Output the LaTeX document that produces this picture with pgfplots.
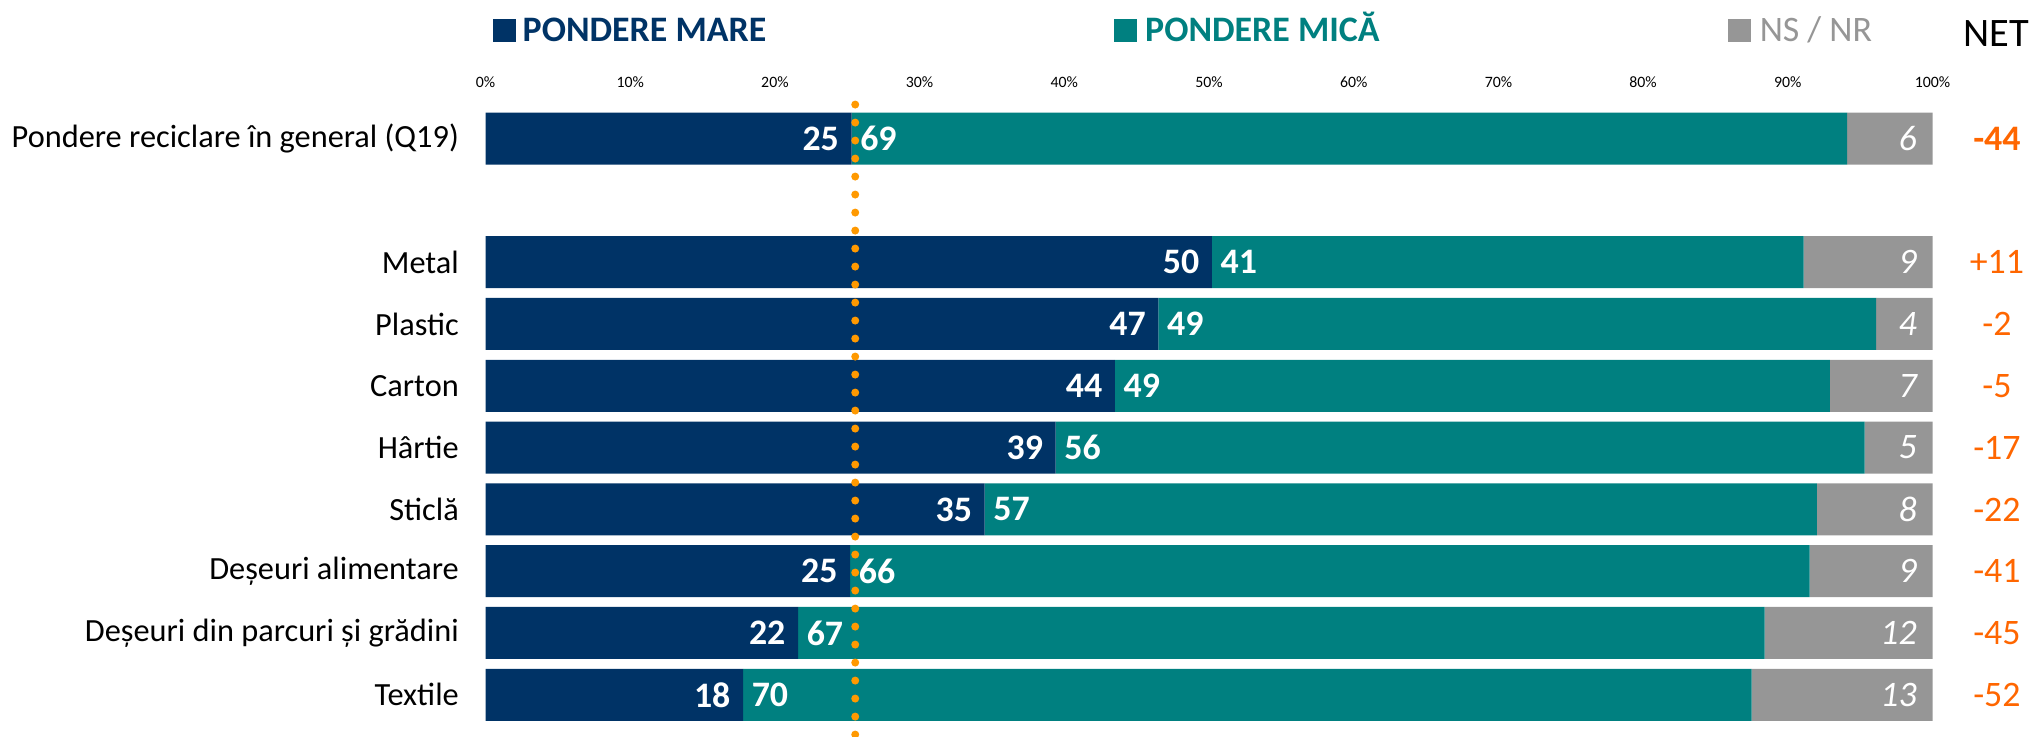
\documentclass[border=0pt]{standalone}
\usepackage{fontspec}
\setmainfont{Carlito}
\usepackage{pgfplots}
\usepackage{pgfplotstable}
\pgfplotsset{compat=1.18}
\definecolor{navy}{RGB}{0,51,102}
\definecolor{teal2}{RGB}{0,128,128}
\definecolor{nsgrey}{RGB}{150,150,150}
\definecolor{dotor}{RGB}{255,153,0}
\definecolor{netor}{RGB}{255,102,0}

\pgfplotstableread{
y big small ns bl sl nl e nx net
9 25.3 68.8 5.9 25 69 6 100 104.45 -44
7 50.2 40.9 8.9 50 41 9 100 104.45 +11
6 46.5 49.6 3.9 47 49 4 100 104.45 -2
5 43.5 49.4 7.1 44 49 7 100 104.45 -5
4 39.4 55.9 4.7 39 56 5 100 104.45 -17
3 34.5 57.5 8.0 35 57 8 100 104.45 -22
2 25.2 66.3 8.5 25 66 9 100 104.45 -41
1 21.6 66.8 11.6 22 67 12 100 104.45 -45
0 17.8 69.7 12.5 18 70 13 100 104.45 -52
}\data

\begin{document}
\begin{tikzpicture}
\useasboundingbox (0,0) rectangle (20.33cm,7.37cm);
\pgfplotsset{base/.style={at={(4.855cm,0)}, anchor=south west, scale only axis,
  width=14.47cm, height=6.355cm, xmin=0, xmax=100, ymin=-0.683, ymax=9.6, clip=false}}
\begin{axis}[base, xbar stacked, bar width=5.2mm,
  axis line style={draw=none}, major tick length=0pt,
  xtick={0,10,...,100},
  xticklabels={0\%,10\%,20\%,30\%,40\%,50\%,60\%,70\%,80\%,90\%,100\%},
  xticklabel pos=upper,
  xticklabel style={font=\fontsize{4.5}{5}\selectfont, anchor=base, inner sep=0pt, yshift=1.35mm},
  ytick={0,1,2,3,4,5,6,7,9},
  yticklabels={Textile,Deșeuri din parcuri și grădini,Deșeuri alimentare,Sticlă,Hârtie,Carton,Plastic,Metal,Pondere reciclare în general (Q19)},
  yticklabel style={font=\fontsize{9.2}{11}\selectfont, anchor=east, inner sep=0pt, xshift=-2.6mm},
]
\addplot[fill=navy, draw=none] table[x=big, y=y]{\data};
\addplot[fill=teal2, draw=none] table[x=small, y=y]{\data};
\addplot[fill=nsgrey, draw=none] table[x=ns, y=y]{\data};
\end{axis}
\begin{axis}[base, hide axis]
\addplot[dotor, line width=0.8mm, line cap=round, dash pattern=on 0pt off 1.8mm] coordinates {(25.55,9.55) (25.55,-0.683)};
\addplot[draw=none, nodes near coords, point meta=explicit symbolic,
  every node near coord/.append style={anchor=east, inner sep=0pt, xshift=-1.2mm, text=white, font=\fontsize{10.2}{12}\selectfont\bfseries}]
  table[x=big, y=y, meta=bl]{\data};
\addplot[draw=none, nodes near coords, point meta=explicit symbolic,
  every node near coord/.append style={anchor=west, inner sep=0pt, xshift=0.8mm, text=white, font=\fontsize{10.2}{12}\selectfont\bfseries}]
  table[x=big, y=y, meta=sl]{\data};
\addplot[draw=none, nodes near coords, point meta=explicit symbolic,
  every node near coord/.append style={anchor=east, inner sep=0pt, xshift=-1.5mm, text=white, font=\fontsize{10.2}{12}\selectfont\itshape}]
  table[x=e, y=y, meta=nl]{\data};
\addplot[draw=none, nodes near coords, point meta=explicit symbolic, skip coords between index={0}{1},
  every node near coord/.append style={anchor=center, inner sep=0pt, text=netor, font=\fontsize{10.2}{12}\selectfont}]
  table[x=nx, y=y, meta=net]{\data};
\addplot[draw=none, nodes near coords, point meta=explicit symbolic, skip coords between index={1}{9},
  every node near coord/.append style={anchor=center, inner sep=0pt, text=netor, font=\fontsize{10.2}{12}\selectfont\bfseries}]
  table[x=nx, y=y, meta=net]{\data};
\node[anchor=base west, inner sep=0pt, font=\fontsize{10.2}{12}\selectfont\bfseries, text=navy] at (axis cs:0.45,10.568) {\rule{2.3mm}{2.3mm}\hspace{0.7mm}PONDERE MARE};
\node[anchor=base west, inner sep=0pt, font=\fontsize{10.2}{12}\selectfont\bfseries, text=teal2] at (axis cs:43.4,10.568) {\rule{2.3mm}{2.3mm}\hspace{0.8mm}PONDERE MICĂ};
\node[anchor=base west, inner sep=0pt, font=\fontsize{10.2}{12}\selectfont, text=nsgrey] at (axis cs:85.8,10.568) {\rule{2.3mm}{2.3mm}\hspace{0.9mm}NS / NR};
\node[anchor=base west, inner sep=0pt, font=\fontsize{11.5}{13}\selectfont, text=black] at (axis cs:102.1,10.487) {NET};
\end{axis}
\end{tikzpicture}
\end{document}
